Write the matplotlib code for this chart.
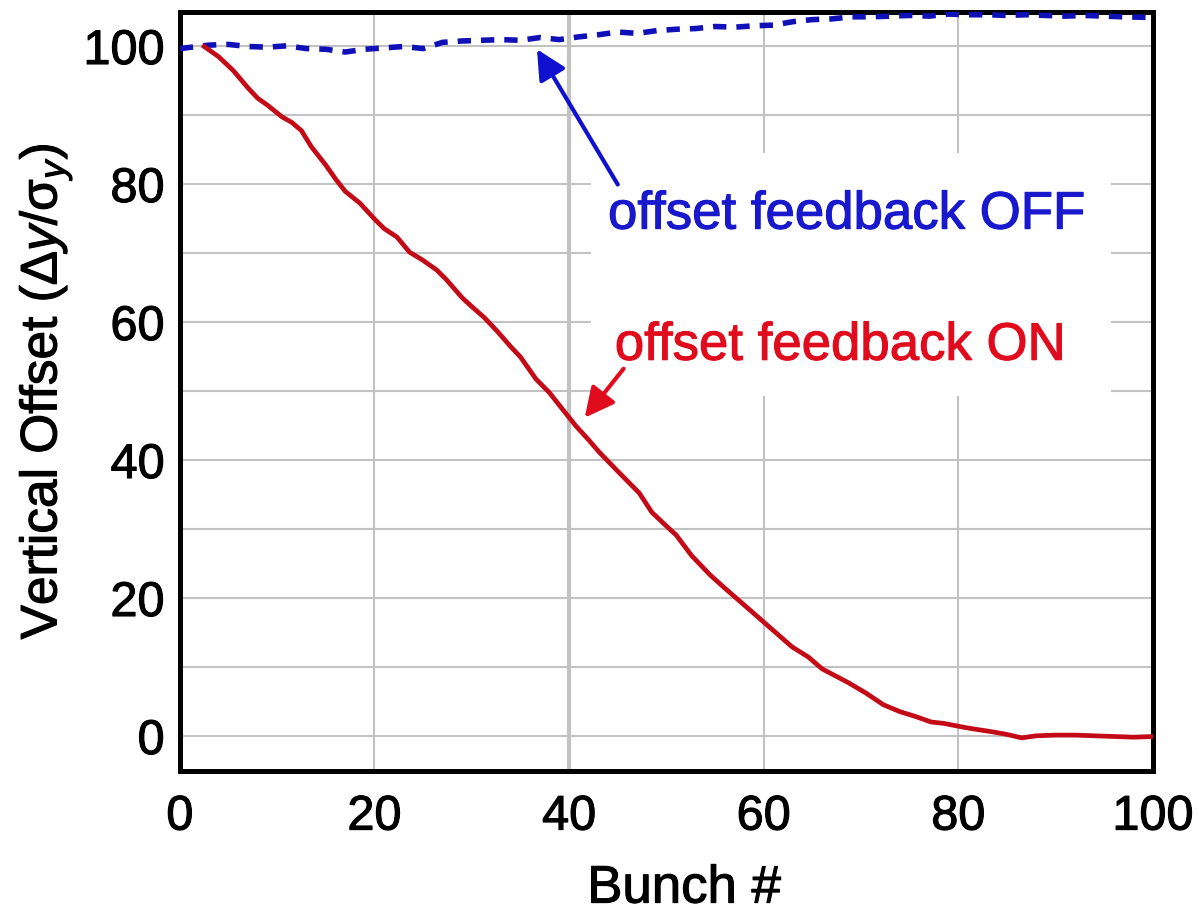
"""Vertical offset along the bunch train with offset feedback on and off."""

import matplotlib

matplotlib.use("Agg")
import matplotlib.patheffects as pe
import matplotlib.pyplot as plt
from matplotlib.patches import Rectangle

# Offset feedback ON (solid red)
bunch_on = [2.5, 4, 5.5, 7, 8, 9, 10.5, 11.5, 12.5, 13.5, 15, 16, 17, 18.5, 20,
            21, 22.3, 23.6, 25, 26.4, 27.4, 29, 30, 31.3, 32.7, 34, 35, 36.6, 38,
            39, 40.7, 42, 43.1, 45.1, 47.2, 48.5, 50, 51, 52.6, 54.5, 56, 58.2,
            59.5, 61.2, 62.9, 64.6, 66, 68.7, 70.5, 72.3, 74, 75.6, 77.2, 78.5,
            80.7, 82, 83.4, 85, 86.5, 88, 90, 92, 94, 96, 98, 100]
offset_on = [100, 98.5, 96.5, 94, 92.5, 91.5, 89.8, 89, 87.8, 85.5, 82.8, 80.8,
             79, 77.3, 75, 73.6, 72.4, 70.2, 69, 67.6, 66.2, 63.6, 62.3, 60.7,
             58.6, 56.5, 55, 51.8, 49.8, 48, 45, 43, 41.2, 38.3, 35.3, 32.5, 30.5,
             29.2, 26.2, 23.4, 21.5, 18.8, 17.2, 15.1, 13.0, 11.5, 9.8, 7.8, 6.3,
             4.6, 3.6, 2.9, 2.1, 1.9, 1.3, 1.0, 0.7, 0.3, -0.2, 0.1, 0.2, 0.2,
             0.1, 0.0, -0.1, 0.0]

# Offset feedback OFF (dashed blue)
bunch_off = [0, 3, 5, 7, 9, 11, 13, 15, 17, 19, 21, 23, 25, 27, 29, 31, 33, 35,
             37, 39, 41, 43, 45, 47, 49, 51, 53, 55, 57, 59, 61, 63, 65, 67, 69,
             71, 73, 75, 77, 79, 81, 83, 85, 87, 89, 91, 93, 95, 97, 100]
offset_off = [99.7, 100.2, 100.3, 100.0, 99.9, 100.1, 99.7, 99.6, 99.2, 99.6,
              99.8, 100.0, 99.7, 100.6, 100.8, 100.9, 101.0, 100.9, 101.3, 101.0,
              101.4, 101.7, 102.1, 101.9, 102.3, 102.5, 102.6, 102.9, 102.8,
              103.0, 103.1, 103.6, 103.9, 104.0, 104.3, 104.3, 104.4, 104.5,
              104.4, 104.7, 104.6, 104.6, 104.5, 104.6, 104.5, 104.4, 104.5,
              104.4, 104.3, 104.2]

x_ticks = [0, 20, 40, 60, 80, 100]
y_ticks = [0, 20, 40, 60, 80, 100]

RED_LINE = "#c40a16"
RED_TEXT = "#e00c1e"
BLUE_LINE = "#1010b8"
BLUE_TEXT = "#1818cc"


def _heavy(color):
    # thin outline in the text colour so the glyphs read a bit heavier
    return [pe.withStroke(linewidth=0.8, foreground=color)]


plt.rcParams.update({
    "font.family": ["Liberation Sans", "DejaVu Sans"],
    "mathtext.fontset": "custom",
    "mathtext.rm": "Liberation Sans",
    "mathtext.it": "Liberation Sans:italic",
})

fig = plt.figure(figsize=(11.99, 9.16), dpi=100)
ax = fig.add_axes([0.150, 0.1583, 0.8116, 0.8286])

ax.set_xlim(0, 100)
ax.set_ylim(-5, 105)
ax.set_xticks(x_ticks)
ax.set_yticks(y_ticks)
ax.tick_params(axis="both", length=0, labelsize=35)
ax.tick_params(axis="x", pad=17)
ax.tick_params(axis="y", pad=11)
for lbl in ax.get_xticklabels() + ax.get_yticklabels():
    lbl.set_path_effects(_heavy("black"))

# grid: vertical every 20, horizontal every 10
for xv in [20, 40, 60, 80]:
    ax.axvline(xv, color="#c2c2c2", lw=3.0 if xv == 40 else 1.5, zorder=0.5)
for yv in range(0, 101, 10):
    ax.axhline(yv, color="#c2c2c2", lw=1.5, zorder=0.5)

# blank area behind the annotations
ax.add_patch(Rectangle((42.3, 49.3), 53.4, 35.3, facecolor="white",
                       edgecolor="none", zorder=1))

ax.plot(bunch_off, offset_off, color=BLUE_LINE, lw=4.0, ls=(0, (2.4, 1.8)),
        zorder=3)
ax.plot(bunch_on, offset_on, color=RED_LINE, lw=3.4, zorder=3)

ax.annotate("", xy=(36.7, 99.6), xytext=(45.0, 80.0),
            arrowprops=dict(arrowstyle="-|>", color="#1010d0", lw=3.0,
                            mutation_scale=45, shrinkA=0, shrinkB=0),
            zorder=4)
ax.annotate("", xy=(41.6, 46.2), xytext=(45.6, 53.3),
            arrowprops=dict(arrowstyle="-|>", color=RED_TEXT, lw=3.0,
                            mutation_scale=45, shrinkA=0, shrinkB=0),
            zorder=4)

ax.text(44.0, 73.6, "offset feedback OFF", color=BLUE_TEXT, fontsize=38,
        ha="left", va="baseline", zorder=4, path_effects=_heavy(BLUE_TEXT))
ax.text(44.7, 54.6, "offset feedback ON", color=RED_TEXT, fontsize=38,
        ha="left", va="baseline", zorder=4, path_effects=_heavy(RED_TEXT))

ax.set_xlabel("Bunch #", fontsize=38, labelpad=12,
              path_effects=_heavy("black"))
ax.xaxis.set_label_coords(0.518, -0.122)
ax.set_ylabel(r"Vertical Offset ($\mathregular{\Delta}y/\mathregular{\sigma}_y$)",
              fontsize=37, labelpad=6, path_effects=_heavy("black"))

for side in ["left", "right", "top", "bottom"]:
    ax.spines[side].set_linewidth(3.6)
    ax.spines[side].set_color("black")

fig.savefig("out.png", dpi=100, facecolor="white")
